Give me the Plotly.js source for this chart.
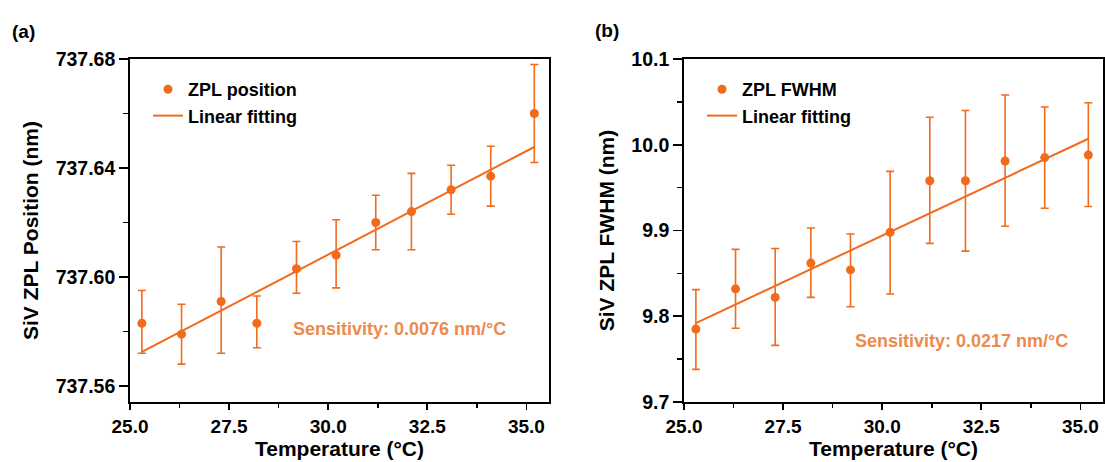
<!DOCTYPE html>
<html>
<head>
<meta charset="utf-8">
<script src="https://cdn.plot.ly/plotly-3.0.1.min.js"></script>
<style>html,body{margin:0;padding:0;background:#fff;}#chart{width:1105px;height:462px;}</style>
</head>
<body>
<div id="chart"></div>
<script>
// ---- Data ----
const temperature = [25.3, 26.3, 27.3, 28.2, 29.2, 30.2, 31.2, 32.1, 33.1, 34.1, 35.2];

const zplPosition = [737.583, 737.579, 737.591, 737.583, 737.603, 737.608, 737.620, 737.624, 737.632, 737.637, 737.660];
const posErrPlus  = [0.012, 0.011, 0.020, 0.010, 0.010, 0.013, 0.010, 0.014, 0.009, 0.011, 0.018];
const posErrMinus = [0.011, 0.011, 0.019, 0.009, 0.009, 0.012, 0.010, 0.014, 0.009, 0.011, 0.018];
const posFitX = [25.3, 35.2];
const posFitY = [737.5725, 737.6477];

const zplFwhm = [9.785, 9.832, 9.822, 9.862, 9.854, 9.898, 9.958, 9.958, 9.981, 9.985, 9.988];
const fwhmErrPlus  = [0.046, 0.046, 0.057, 0.041, 0.042, 0.071, 0.074, 0.082, 0.077, 0.059, 0.061];
const fwhmErrMinus = [0.047, 0.046, 0.056, 0.040, 0.043, 0.072, 0.073, 0.082, 0.076, 0.059, 0.060];
const fwhmFitX = [25.3, 35.2];
const fwhmFitY = [9.792, 10.007];

const xTickVals = [25.0, 27.5, 30.0, 32.5, 35.0];
const posTickVals = [737.56, 737.60, 737.64, 737.68];
const fwhmTickVals = [9.7, 9.8, 9.9, 10.0, 10.1];

const labels = {
  panelA: '(a)', panelB: '(b)',
  posName: 'ZPL position', fwhmName: 'ZPL FWHM', fitName: 'Linear fitting',
  xTitle: 'Temperature (°C)',
  posTitle: 'SiV ZPL Position (nm)', fwhmTitle: 'SiV ZPL FWHM (nm)',
  posSens: 'Sensitivity: 0.0076 nm/°C', fwhmSens: 'Sensitivity: 0.0217 nm/°C'
};

// ---- Styles ----
const ORANGE = '#F26A1B';
const TEXT_ORANGE = '#EC8B4C';
const FONT = 'Liberation Sans, Arial, sans-serif';

function errObj(plus, minus) {
  return {type: 'data', symmetric: false, array: plus, arrayminus: minus,
          color: ORANGE, thickness: 1.6, width: 4};
}

const traces = [
  {x: temperature, y: zplPosition, type: 'scatter', mode: 'markers', name: labels.posName,
   marker: {color: ORANGE, size: 9}, error_y: errObj(posErrPlus, posErrMinus),
   xaxis: 'x', yaxis: 'y', legend: 'legend'},
  {x: posFitX, y: posFitY, type: 'scatter', mode: 'lines', name: labels.fitName,
   line: {color: ORANGE, width: 2}, xaxis: 'x', yaxis: 'y', legend: 'legend'},
  {x: temperature, y: zplFwhm, type: 'scatter', mode: 'markers', name: labels.fwhmName,
   marker: {color: ORANGE, size: 9}, error_y: errObj(fwhmErrPlus, fwhmErrMinus),
   xaxis: 'x2', yaxis: 'y2', legend: 'legend2'},
  {x: fwhmFitX, y: fwhmFitY, type: 'scatter', mode: 'lines', name: labels.fitName,
   line: {color: ORANGE, width: 2}, xaxis: 'x2', yaxis: 'y2', legend: 'legend2'}
];

function xAxis(domain, anchor) {
  return {
    domain: domain, anchor: anchor, range: [25.0, 35.57],
    tickvals: xTickVals, tickformat: '.1f',
    ticks: 'outside', ticklen: 6, tickwidth: 1.6, tickcolor: '#000',
    minor: {dtick: 1.25, tick0: 25, ticks: 'outside', ticklen: 4, tickwidth: 1.6, tickcolor: '#000'},
    showline: true, linewidth: 1.8, linecolor: '#000', mirror: true,
    showgrid: false, zeroline: false,
    tickfont: {family: FONT, size: 19, color: '#000', weight: 'bold'},
    title: {text: labels.xTitle, font: {family: FONT, size: 21, color: '#000', weight: 'bold'}, standoff: 4}
  };
}
function yAxis(domain, anchor, range, tickvals, fmt, minorDtick, minorTick0, title) {
  return {
    domain: domain, anchor: anchor, range: range,
    tickvals: tickvals, tickformat: fmt,
    ticks: 'outside', ticklen: 9, tickwidth: 1.6, tickcolor: '#000',
    minor: {dtick: minorDtick, tick0: minorTick0, ticks: 'outside', ticklen: 5, tickwidth: 1.6, tickcolor: '#000'},
    showline: true, linewidth: 1.8, linecolor: '#000', mirror: true,
    showgrid: false, zeroline: false,
    tickfont: {family: FONT, size: 19.5, color: '#000', weight: 'bold'},
    title: {text: title, font: {family: FONT, size: 21, color: '#000', weight: 'bold'}, standoff: 11}
  };
}

const yDom = [60/462, 403/462];
const legendFont = {family: FONT, size: 18, color: '#000', weight: 'bold'};
const layout = {
  width: 1105, height: 462,
  margin: {l: 0, r: 0, t: 0, b: 0},
  paper_bgcolor: '#fff', plot_bgcolor: '#fff',
  showlegend: true,
  xaxis: xAxis([130/1105, 549/1105], 'y'),
  yaxis: yAxis(yDom, 'x', [737.5541, 737.68], posTickVals, '.2f', 0.02, 737.56, labels.posTitle),
  xaxis2: xAxis([684/1105, 1103/1105], 'y2'),
  yaxis2: yAxis(yDom, 'x2', [9.7, 10.1], fwhmTickVals, '.1f', 0.05, 9.7, labels.fwhmTitle),
  legend: {x: 148/1105, y: 1 - 71/462, xanchor: 'left', yanchor: 'top', bgcolor: 'rgba(0,0,0,0)',
           font: legendFont, tracegroupgap: 0, itemwidth: 30},
  legend2: {x: 702/1105, y: 1 - 71/462, xanchor: 'left', yanchor: 'top', bgcolor: 'rgba(0,0,0,0)',
           font: legendFont, tracegroupgap: 0, itemwidth: 30},
  annotations: [
    {text: labels.panelA, xref: 'paper', yref: 'paper', x: 10/1105, y: 1 - 32/462, xanchor: 'left', yanchor: 'middle',
     showarrow: false, font: {family: FONT, size: 19, color: '#000', weight: 'bold'}},
    {text: labels.panelB, xref: 'paper', yref: 'paper', x: 593/1105, y: 1 - 30/462, xanchor: 'left', yanchor: 'middle',
     showarrow: false, font: {family: FONT, size: 19, color: '#000', weight: 'bold'}},
    {text: labels.posSens, xref: 'x', yref: 'y', x: 31.8, y: 737.581, xanchor: 'center', yanchor: 'middle',
     showarrow: false, font: {family: FONT, size: 18, color: TEXT_ORANGE, weight: 'bold'}},
    {text: labels.fwhmSens, xref: 'x2', yref: 'y2', x: 32.0, y: 9.7715, xanchor: 'center', yanchor: 'middle',
     showarrow: false, font: {family: FONT, size: 18, color: TEXT_ORANGE, weight: 'bold'}}
  ]
};

Plotly.newPlot('chart', traces, layout, {displayModeBar: false, staticPlot: true});
</script>
</body>
</html>
